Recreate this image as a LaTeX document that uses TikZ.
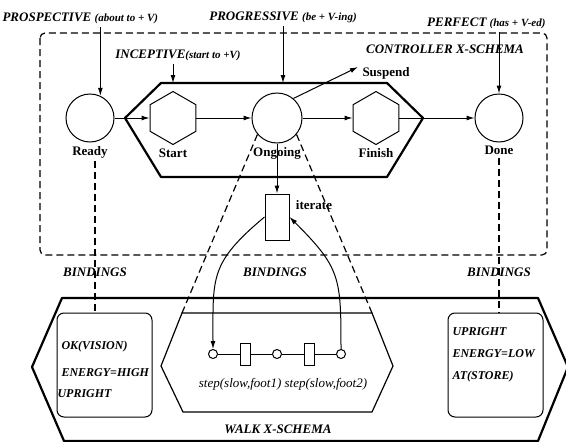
\documentclass[tikz,border=0pt]{standalone}
\usepackage{fontspec}
\setmainfont{Liberation Serif}
\usetikzlibrary{positioning,shapes.geometric,arrows.meta}

\begin{document}
\begin{tikzpicture}[x=1pt,y=-1pt,on grid,>={Latex[length=8pt,width=5pt]},
   state/.style={circle,draw,line width=1pt,minimum size=48pt,inner sep=0pt},
   phase/.style={regular polygon,regular polygon sides=6,shape border rotate=30,
                 draw,line width=1pt,minimum size=53pt,inner sep=0pt},
   place/.style={circle,draw,line width=1pt,minimum size=9pt,inner sep=0pt},
   trans/.style={rectangle,draw,line width=1pt,minimum width=10pt,minimum height=22pt,inner sep=0pt},
   statelabel/.style={font=\bfseries\fontsize{13}{15}\selectfont},
   aspect/.style={font=\bfseries\itshape\fontsize{13}{15}\selectfont},
   fact/.style={font=\bfseries\itshape\fontsize{12}{14}\selectfont,align=left},
   factbox/.style={draw,line width=1pt,rounded corners=7pt,minimum width=95pt,minimum height=104pt},
   heavy/.style={line width=2.2pt,line join=round},
   bind/.style={line width=1.2pt,dash pattern=on 7pt off 4pt}]

   \useasboundingbox (0,0) rectangle (566,442);

   % controller x-schema
   \draw[bind,rounded corners=5pt] (40,33) rectangle (547,255);
   \node[aspect] (ctrl) at (445,49) {CONTROLLER X-SCHEMA};
   \coordinate (ctl) at (161,83);
   \draw[heavy] (ctl) -- (387,83) -- (423,118) -- (387,177) -- (161,177) -- (125,118) -- cycle;

   \node[state,label={[statelabel,name=readyl]below:Ready}] (ready) at (90,118) {};
   \node[phase,label={[statelabel,name=startl]below:Start}] (start) [right=83pt of ready] {};
   \node[state,minimum size=50pt,label={[statelabel,name=ongoingl]below:Ongoing}] (ongoing) [right=104pt of start] {};
   \node[phase,label={[statelabel,name=finishl]below:Finish}] (finish) [right=99pt of ongoing] {};
   \node[state,label={[statelabel,name=donel]below:Done}] (done) [right=123pt of finish] {};
   \node[trans,minimum width=24pt,minimum height=46pt] (iterate) [below=99pt of ongoing] {};
   \node[statelabel] (iteratel) at (314,205) {iterate};

   % aspects
   \node[aspect,anchor=west] (prosp) at (-1,18) {PROSPECTIVE {\fontsize{11}{13}\selectfont(about to + V)}};
   \node[aspect] (prog) at (283,17) {PROGRESSIVE {\fontsize{11}{13}\selectfont(be + V-ing)}};
   \node[aspect,anchor=east] (perf) at (549,23) {PERFECT {\fontsize{11}{13}\selectfont(has + V-ed)}};
   \node[aspect] (incep) at (178,55) {INCEPTIVE{\fontsize{11}{13}\selectfont(start to +V)}};
   \node[statelabel] (suspend) at (386,73) {Suspend};
   \coordinate (susp) at (358,67);

   \draw[->,line width=1pt] (ready.65 |- prosp.south) -- (ready.65);
   \draw[->,line width=1pt] (start.north |- incep.south) -- (start.north |- ctl);
   \draw[->,line width=1pt] (prog.south) -- (prog.south |- ctl);
   \draw[->,line width=1pt] (done.north |- perf.south) -- (done.north);
   \draw[->,line width=1pt] (ongoing.50) -- (susp);

   \path[->,line width=1pt]
   (ready) edge (start)
   (start) edge (ongoing)
   (ongoing) edge (finish)
             edge (iterate)
   (finish) edge (done);

   % walk x-schema
   \draw[heavy] (62,298) -- (538,298) -- (568,367) -- (538,441) -- (64,441) -- (32,367) -- cycle;
   \node[aspect] (walk) at (278,429) {WALK X-SCHEMA};
   \coordinate (wtl) at (182,313);
   \coordinate (wtr) at (372,313);
   \draw[line width=1.2pt,line join=round] (wtl) -- (wtr) -- (393,366) -- (372,412) -- (183,412) -- (161,366) -- cycle;

   \node[factbox] (okbox) at (104.5,365) {};
   \node[fact,anchor=west] (okfacts) at (58,369) {OK(VISION)\\[13pt]ENERGY=HIGH\\[7pt]\hspace*{-4pt}UPRIGHT};
   \node[factbox] (storebox) at (495.5,365) {};
   \node[fact,anchor=west] (storefacts) at (449,355) {UPRIGHT\\[8pt]ENERGY=LOW\\[8pt]AT(STORE)};

   \node[place] (p2) [below=137pt of iterate] {};
   \node[trans] (t1) [left=32pt of p2] {};
   \node[place] (p1) [left=32pt of t1] {};
   \node[trans] (t2) [right=32pt of p2] {};
   \node[place] (p3) [right=32pt of t2] {};
   \draw[line width=1pt] (p1) -- (t1) -- (p2) -- (t2) -- (p3);
   \node[font=\itshape\fontsize{13}{15}\selectfont] (steps) at (283,384) {step(slow,foot1) step(slow,foot2)};

   \draw[->,line width=1pt] (iterate.west) to[out=220,in=90,looseness=1.3] (p1.north);
   \draw[->,line width=1pt] (p3.north) to[out=90,in=-45,looseness=1.3] (iterate.east);

   % bindings
   \node[aspect] (bind1) at (95,272) {BINDINGS};
   \node[aspect] (bind2) at (275,272) {BINDINGS};
   \node[aspect] (bind3) at (499,272) {BINDINGS};
   \coordinate (readyb) at ([xshift=5pt]readyl.south);
   \draw[bind] (readyb) -- (readyb |- okbox.north);
   \draw[bind] (donel.south) -- (donel.south |- storebox.north);
   \draw[bind] (ongoing.220) -- (wtl);
   \draw[bind] (ongoing.320) -- (wtr);
\end{tikzpicture}
\end{document}
